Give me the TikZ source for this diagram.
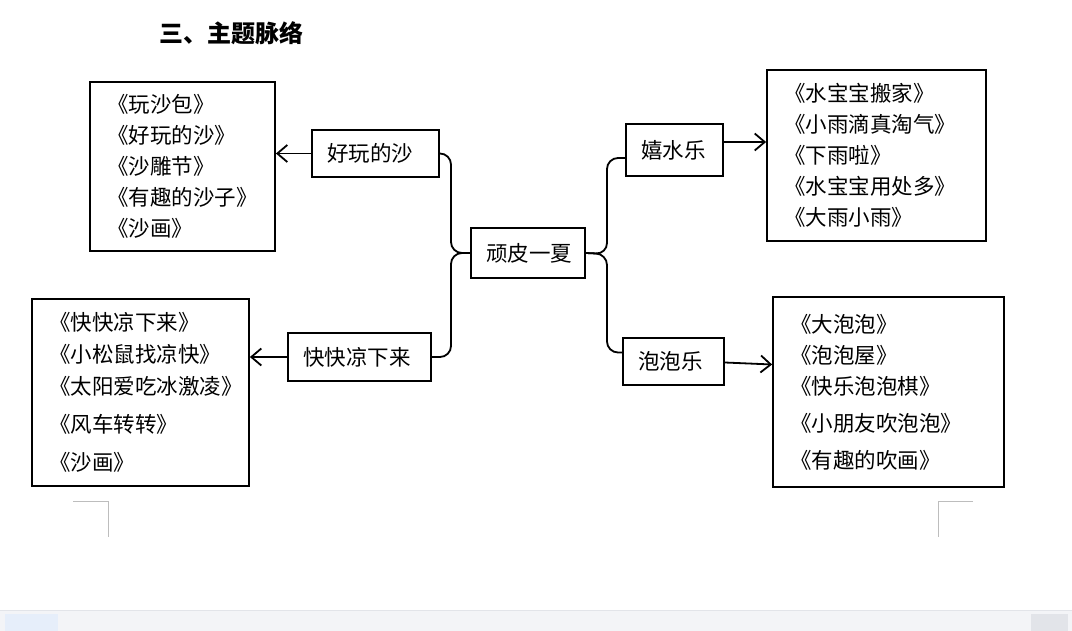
\documentclass[tikz,border=0pt]{standalone}
\usepackage{fontspec}
\setmainfont{Noto Sans CJK SC}
\usetikzlibrary{arrows.meta}
\definecolor{barbg}{HTML}{F3F4F7}
\definecolor{barline}{HTML}{E2E4E9}
\definecolor{barhi}{HTML}{E6EEFA}
\definecolor{markgray}{HTML}{BDBDBD}

\begin{document}
\begin{tikzpicture}[x=1pt,y=-1pt,>={Straight Barb[length=10pt,width=17pt]},line width=1.8pt,
  topic/.style={draw,rectangle,inner xsep=15pt,inner ysep=0pt,align=left,font=\fontsize{21.5}{26}\selectfont},
  books/.style={draw,rectangle,inner xsep=17pt,inner ysep=0pt,align=left,font=\fontsize{21.5}{31}\selectfont},
  brace/.style={rounded corners=11pt}]
  \useasboundingbox (0,0) rectangle (1072,631);
  \node (title) [anchor=west,font=\bfseries\fontsize{24}{28}\selectfont] at (155,33) {三、主题脉络};
  % the topic boxes
  \node (root)   [topic,text width=84pt,minimum height=50pt] at (528,253) {顽皮一夏};
  \node (sand)   [topic,text width=97pt,minimum height=47pt] at (375.5,153.5) {好玩的沙};
  \node (cool)   [topic,text width=113pt,minimum height=48pt] at (359.5,357) {快快凉下来};
  \node (water)  [topic,text width=67pt,minimum height=52pt] at (674.5,150) {嬉水乐};
  \node (bubble) [topic,text width=71pt,minimum height=47pt] at (673.5,361.5) {泡泡乐};
  % the book lists
  \node (sandlist) [books,text width=151pt,minimum height=169pt] at (182.5,166.5)
    {《玩沙包》\\《好玩的沙》\\《沙雕节》\\《有趣的沙子》\\《沙画》};
  \node (coollist) [books,text width=183pt,minimum height=187pt,font=\fontsize{21.5}{32}\selectfont] at (140.5,392.5)
    {《快快凉下来》\\《小松鼠找凉快》\\《太阳爱吃冰激凌》\\[6pt]《风车转转》\\[6pt]《沙画》};
  \node (waterlist) [books,text width=185pt,minimum height=171pt] at (876.5,155.5)
    {《水宝宝搬家》\\《小雨滴真淘气》\\《下雨啦》\\《水宝宝用处多》\\《大雨小雨》};
  \node (bubblelist) [books,text width=197pt,minimum height=190pt] at (888.5,392)
    {《大泡泡》\\《泡泡屋》\\《快乐泡泡棋》\\[6pt]《小朋友吹泡泡》\\[6pt]《有趣的吹画》};
  % braces
  \coordinate (lj) at (451,253);
  \coordinate (rj) at (607,254);
  \draw[brace] (sand.east) -| (lj) -- (root.west);
  \draw[brace] (cool.east) -| (lj) -- (root.west);
  \draw[brace] (root.east) -- (rj) |- ([yshift=-8pt]water.west);
  \draw[brace] (root.east) -- (rj) |- ([yshift=9pt]bubble.west);
  % arrows
  \draw[->] (sand.west) -- (sand.west -| sandlist.east);
  \draw[->] (cool.west) -- (cool.west -| coollist.east);
  \draw[->] ([yshift=8pt]water.east) -- ([yshift=8pt]water.east -| waterlist.west);
  \draw[->] ([yshift=-1pt]bubble.east) -- ([yshift=-3pt]bubble.east -| bubblelist.west);
  % page corners and status bar
  \draw[markgray,line width=1pt] (73,501) -- (108,501) -- (108,537);
  \draw[markgray,line width=1pt] (973,501) -- (938,501) -- (938,537);
  \fill[barbg] (0,610) rectangle (1072,631);
  \draw[barline,line width=1pt] (0,610) -- (1072,610);
  \fill[barhi] (5,614) rectangle (58,631);
  \fill[barline] (1031,614) rectangle (1068,631);
\end{tikzpicture}
\end{document}
